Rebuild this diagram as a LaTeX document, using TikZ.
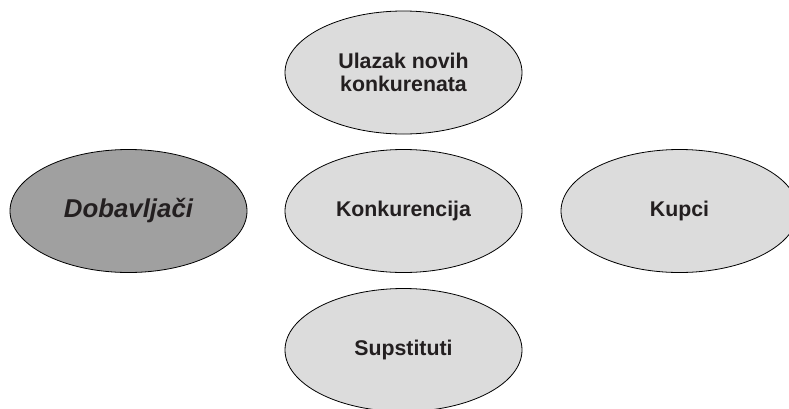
\documentclass[tikz,border=0pt]{standalone}
\usepackage{fontspec}
\setmainfont{Liberation Sans}
\usetikzlibrary{shapes.geometric}
\definecolor{lightfill}{HTML}{DCDCDC}
\definecolor{darkfill}{HTML}{A0A0A0}
\definecolor{txt}{HTML}{231F20}
\tikzset{
  force/.style={ellipse, draw=black, line width=0.8pt, fill=lightfill,
    minimum width=237pt, minimum height=123pt, inner sep=0pt,
    text=txt, align=center, font=\fontsize{21.3pt}{22.5pt}\selectfont\bfseries},
  supplier/.style={force, fill=darkfill,
    font=\fontsize{25.8pt}{27pt}\selectfont\bfseries\itshape}
}
\begin{document}
\begin{tikzpicture}[x=1pt,y=-1pt]
\useasboundingbox (0,0) rectangle (789,408);
\clip (0,0) rectangle (789,408);
\node[force] (entry) at (403.5,72.5) {Ulazak novih\\konkurenata};
\node[supplier] (supp) at (128.5,211) {Dobavljači};
\node[force] (rival) at (403.5,211) {Konkurencija};
\node[force] (buyers) at (679.5,211) {Kupci};
\node[force] (subst) at (403.5,350) {Supstituti};
\end{tikzpicture}
\end{document}
